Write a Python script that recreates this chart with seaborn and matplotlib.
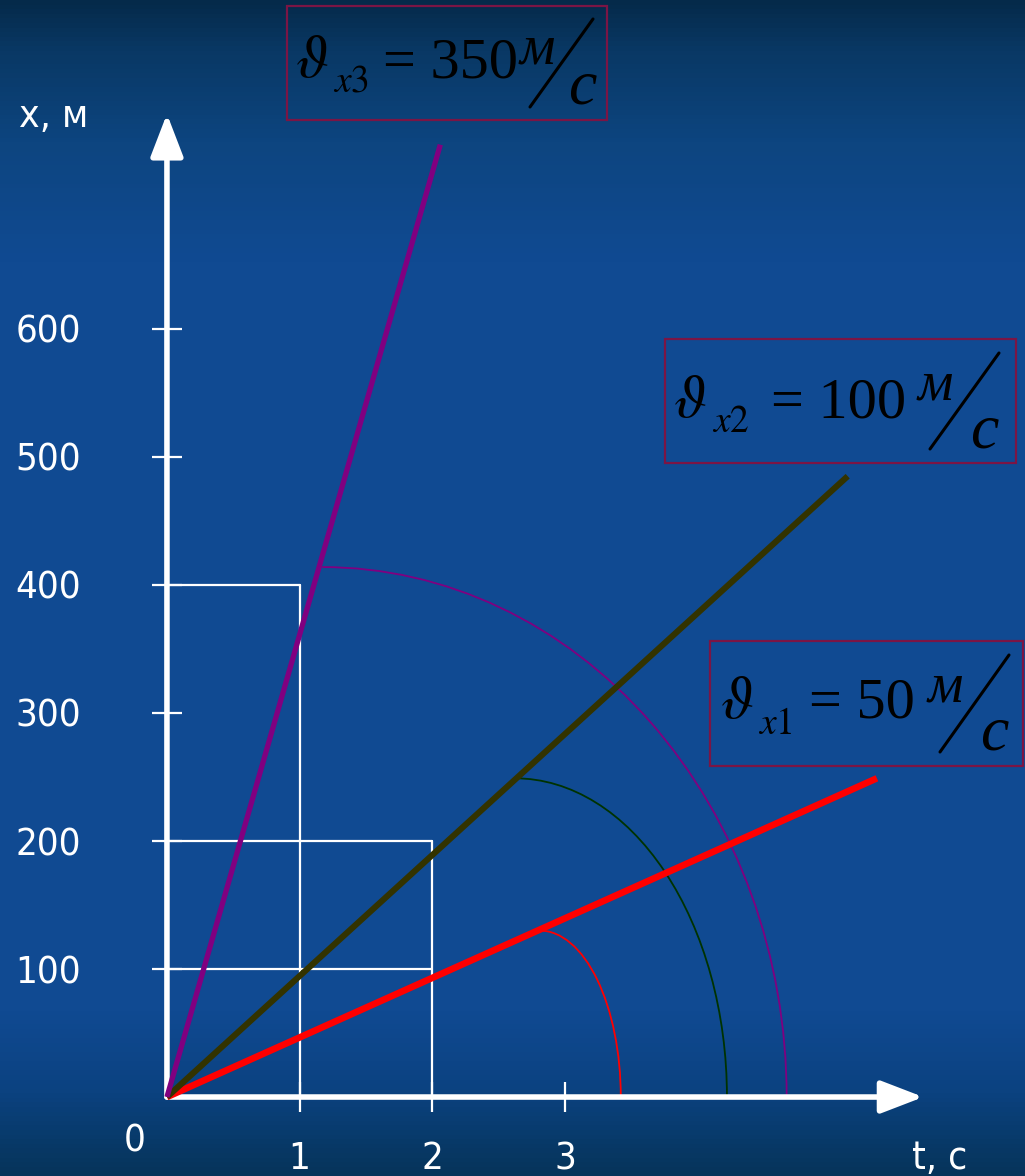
import numpy as np
import pandas as pd
import seaborn as sns
import matplotlib.pyplot as plt
from matplotlib.patches import Arc, Rectangle
from matplotlib.colors import LinearSegmentedColormap

# values
t_ticks = [1, 2, 3]
x_ticks = [100, 200, 300, 400, 500, 600]

series = ["x1", "x2", "x3"]
speeds = [50, 100, 350]
line_t_end = [5.35, 5.13, 2.06]
line_x_end = [249, 485, 744]
line_colors = ["#ff0000", "#333300", "#800080"]
line_widths = [4.8, 4.4, 3.8]

# quarter arcs dropped from each line onto the t axis
arc_t_start = [2.81, 2.62, 1.17]
arc_x_start = [130, 249, 414]
arc_t_end = [3.42, 4.22, 4.67]
arc_colors = ["#ff0000", "#003300", "#800080"]

# white helper lines
guide_levels = [100, 200, 400]
guide_t_to = [2, 2, 1]
drop_t = [1, 2]
drop_x = [400, 200]

t_axis_end = 5.70
x_axis_end = 768

W, H = 1025, 1176

sns.set_theme(style="white")
plt.rcParams["font.family"] = ["DejaVu Sans"]
plt.rcParams["mathtext.fontset"] = "stix"

fig = plt.figure(figsize=(W / 100, H / 100), dpi=100)

# background: dark blue slide with darker top and bottom
bg = fig.add_axes([0, 0, 1, 1])
bg_cmap = LinearSegmentedColormap.from_list("slide", [
    (0.0, "#052a4a"), (0.04, "#093864"), (0.12, "#0d4580"), (0.22, "#104a92"),
    (0.86, "#104a92"), (0.93, "#0b4280"), (1.0, "#06345a")])
bg.imshow(np.linspace(0, 1, 256)[:, None], aspect="auto", cmap=bg_cmap,
          extent=(0, 1, 0, 1), origin="upper")
bg.axis("off")

ax = fig.add_axes([0, 0, 1, 1])
ax.set_facecolor("none")
ax.set_xlim(-1.258, 6.466)
ax.set_ylim(-61.7, 857.0)
ax.grid(False)

# lines x = v*t
rows = []
for s, te, xe in zip(series, line_t_end, line_x_end):
    rows.append({"series": s, "t": 0.0, "x": 0.0})
    rows.append({"series": s, "t": te, "x": xe})
df = pd.DataFrame(rows)
for s, col, lw in zip(series, line_colors, line_widths):
    sns.lineplot(data=df[df["series"] == s], x="t", y="x", color=col, lw=lw,
                 ax=ax, zorder=5, legend=False, solid_capstyle="butt")

for ts, xs, te, col in zip(arc_t_start, arc_x_start, arc_t_end, arc_colors):
    ax.add_patch(Arc((ts, 0), 2 * (te - ts), 2 * xs, theta1=0, theta2=90,
                     color=col, lw=1.3, zorder=3))

for lev, tt in zip(guide_levels, guide_t_to):
    ax.plot([0, tt], [lev, lev], color="white", lw=1.6, zorder=2)
for tt, lev in zip(drop_t, drop_x):
    ax.plot([tt, tt], [0, lev], color="white", lw=1.6, zorder=2)

# axes as white arrows
arrow = dict(arrowstyle="-|>,head_length=26,head_width=10", mutation_scale=1,
             color="white", lw=4.0, shrinkA=0, shrinkB=0)
ax.annotate("", xy=(t_axis_end, 0), xytext=(0, 0), arrowprops=arrow, zorder=4)
ax.annotate("", xy=(0, x_axis_end), xytext=(0, 0), arrowprops=arrow, zorder=4)

for side in ["top", "right"]:
    ax.spines[side].set_visible(False)
for side in ["left", "bottom"]:
    ax.spines[side].set_position(("data", 0))
    ax.spines[side].set_color("none")
ax.set_xticks(t_ticks)
ax.set_yticks(x_ticks)
ax.set_xlabel("")
ax.set_ylabel("")
ax.tick_params(bottom=True, left=True, direction="inout", length=21.6,
               width=1.6, color="white", labelcolor="white", labelsize=27.5)
ax.tick_params(axis="y", pad=51)
ax.tick_params(axis="x", pad=21)
for lab in ax.get_xticklabels() + ax.get_yticklabels():
    lab.set_fontstretch("condensed")

# overlay in pixel coordinates for the labels and formula boxes
ov = fig.add_axes([0, 0, 1, 1])
ov.set_xlim(0, W)
ov.set_ylim(H, 0)
ov.axis("off")

ov.text(135, 1141, "0", color="white", fontsize=27.5, ha="center", va="center",
        fontstretch="condensed")
ov.text(19, 127, "x, м", color="white", fontsize=28, ha="left", va="baseline",
        fontstretch="condensed")
ov.text(912, 1169, "t, с", color="white", fontsize=28, ha="left", va="baseline",
        fontstretch="condensed")

boxes = [
    # box, theta, subscript, "=", м, slash, с
    ((710, 641, 1023, 766), (720, 718), (758, 734), 811, (928, 702),
     ((940, 752), (1009, 655)), (980, 750)),
    ((665, 339, 1016, 463), (673, 417), (712, 432), 773, (918, 400),
     ((930, 449), (999, 353)), (970, 448)),
    ((287, 6, 607, 120), (295, 77), (333, 91), 385, (520, 63),
     ((530, 107), (593, 19)), (568, 104)),
]
serif = ["Liberation Serif", "DejaVu Serif"]
for i, (box, th, sub, eqx, mxy, sl, cxy) in enumerate(boxes):
    x0, y0, x1, y1 = box
    ov.add_patch(Rectangle((x0, y0), x1 - x0, y1 - y0, fill=False,
                           ec="#7b1545", lw=1.6))
    ov.text(th[0], th[1], r"$\vartheta$", fontsize=43,
            color="black", ha="left", va="baseline")
    ov.text(sub[0], sub[1], r"$x%d$" % (i + 1), fontsize=27,
            color="black", ha="left", va="baseline")
    ov.text(eqx - 2, th[1], "= %d" % speeds[i], fontsize=42, family=serif,
            color="black", ha="left", va="baseline")
    ov.text(mxy[0], mxy[1], "м", fontsize=40, family=serif, style="italic",
            color="black", ha="left", va="baseline")
    ov.plot([sl[0][0], sl[1][0]], [sl[0][1], sl[1][1]], color="black", lw=2.2)
    ov.text(cxy[0], cxy[1], "с", fontsize=46, family=serif, style="italic",
            color="black", ha="left", va="baseline")

fig.savefig("out.png", dpi=100)
